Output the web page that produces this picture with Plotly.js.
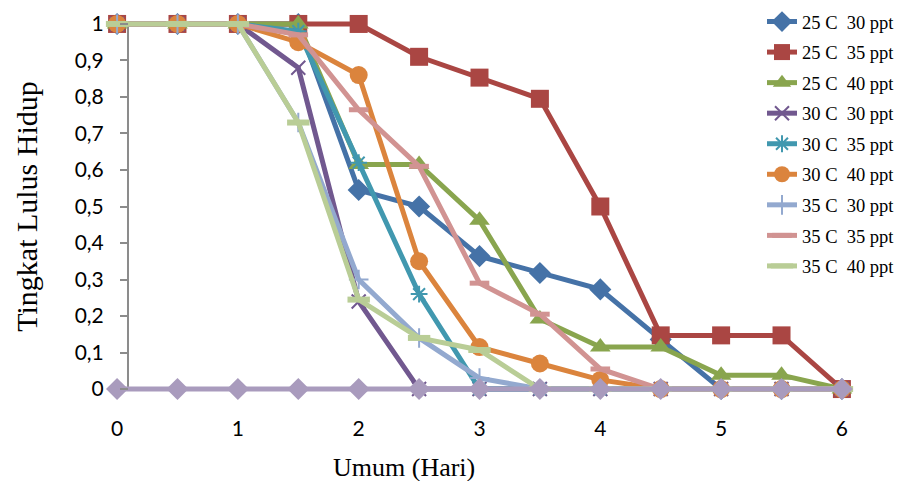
<!DOCTYPE html>
<html>
<head>
<meta charset="utf-8">
<script src="https://cdn.plot.ly/plotly-3.0.1.min.js"></script>
<style>html,body{margin:0;padding:0;background:#fff;}#chart{width:900px;height:481px;}</style>
</head>
<body>
<div id="chart"></div>
<script>
var days = [0, 0.5, 1, 1.5, 2, 2.5, 3, 3.5, 4, 4.5, 5, 5.5, 6];
var xTicks = [0, 1, 2, 3, 4, 5, 6];
var yTicks = [0, 0.1, 0.2, 0.3, 0.4, 0.5, 0.6, 0.7, 0.8, 0.9, 1];

var names = ['25 C\u00a0 30 ppt', '25 C\u00a0 35 ppt', '25 C\u00a0 40 ppt',
             '30 C\u00a0 30 ppt', '30 C\u00a0 35 ppt', '30 C\u00a0 40 ppt',
             '35 C\u00a0 30 ppt', '35 C\u00a0 35 ppt', '35 C\u00a0 40 ppt', ''];

var s25_30 = [1, 1, 1, 1, 0.545, 0.5, 0.364, 0.318, 0.273, 0.136, 0, 0, 0];
var s25_35 = [1, 1, 1, 1, 1, 0.91, 0.853, 0.795, 0.5, 0.147, 0.147, 0.147, 0];
var s25_40 = [1, 1, 1, 1, 0.615, 0.615, 0.462, 0.192, 0.115, 0.115, 0.038, 0.038, 0];
var s30_30 = [1, 1, 1, 0.88, 0.24, 0, 0, 0, 0, 0, 0, 0, 0];
var s30_35 = [1, 1, 1, 0.98, 0.62, 0.26, 0, 0, 0, 0, 0, 0, 0];
var s30_40 = [1, 1, 1, 0.95, 0.86, 0.35, 0.115, 0.07, 0.025, 0, 0, 0, 0];
var s35_30 = [1, 1, 1, 0.73, 0.30, 0.14, 0.03, 0, 0, 0, 0, 0, 0];
var s35_35 = [1, 1, 1, 0.97, 0.765, 0.61, 0.29, 0.205, 0.055, 0, 0, 0, 0];
var s35_40 = [1, 1, 1, 0.73, 0.245, 0.14, 0.107, 0, 0, 0, 0, 0, 0];
var sZero  = [0, 0, 0, 0, 0, 0, 0, 0, 0, 0, 0, 0, 0];

var series = [s25_30, s25_35, s25_40, s30_30, s30_35, s30_40, s35_30, s35_35, s35_40, sZero];
var colors = ['#4572A7', '#AA4643', '#89A54E', '#71588F', '#4198AF', '#DB843D', '#93A9CF', '#D19392', '#B9CD96', '#A99BBD'];
var symbols = ['diamond', 'square', 'triangle-up', 'x-thin', 'asterisk', 'circle', 'cross-thin', 'line-ew', 'line-ew', 'diamond'];
var msizes = [17, 18, 18, 14, 14, 18, 14, 14, 16, 17];

var traces = series.map(function (ys, i) {
  var thin = (symbols[i].indexOf('thin') >= 0 || symbols[i] === 'asterisk' || symbols[i].indexOf('line') === 0);
  return {
    type: 'scatter',
    mode: 'lines+markers',
    x: days,
    y: ys,
    name: names[i],
    showlegend: i < 9,
    legendgroup: 'g' + i,
    cliponaxis: false,
    line: {color: colors[i], width: 5},
    marker: {
      symbol: symbols[i],
      size: msizes[i],
      color: colors[i],
      line: {color: colors[i], width: thin ? 2 : 0}
    }
  };
});
traces[7].marker.line.width = 5;
traces[8].marker.line.width = 6;

var serif = 'Liberation Serif, Times New Roman, serif';

var layout = {
  width: 900,
  height: 481,
  margin: {l: 105, r: 46, t: 13, b: 81, autoexpand: false},
  paper_bgcolor: '#ffffff',
  plot_bgcolor: 'rgba(0,0,0,0)',
  separators: ', ',
  showlegend: true,
  legend: {
    xref: 'container', yref: 'container',
    x: 762 / 900, xanchor: 'left', y: 1 - 3 / 481, yanchor: 'top',
    font: {family: serif, size: 18.5, color: '#000'},
    traceorder: 'grouped',
    tracegroupgap: 3.5,
    maxheight: 470,
    bgcolor: 'rgba(0,0,0,0)'
  },
  xaxis: {
    range: [-0.1, 6.1],
    tickvals: xTicks,
    ticktext: xTicks.map(String),
    showgrid: false,
    zeroline: false,
    showline: false,
    ticks: '',
    ticklabelstandoff: 14,
    tickfont: {family: 'Lato, sans-serif', size: 21, color: '#000'}
  },
  yaxis: {
    range: [-0.03, 1.03],
    anchor: 'free',
    position: 0.0307,
    tickvals: yTicks,
    ticktext: yTicks.map(function (v) { return v === 0 || v === 1 ? String(v) : String(v).replace('.', ','); }),
    showgrid: false,
    zeroline: false,
    showline: false,
    ticks: 'outside',
    ticklen: 8,
    tickwidth: 2,
    tickcolor: '#8c8c8c',
    ticklabelstandoff: 12,
    tickfont: {family: 'Lato, sans-serif', size: 21, color: '#000'},
    title: {text: 'Tingkat Lulus Hidup', font: {family: serif, size: 30, color: '#000'}, standoff: 27}
  },
  annotations: [{
    text: 'Umum (Hari)', xref: 'paper', yref: 'paper',
    x: (404 - 105) / 749, y: -(467 - 400) / 387,
    xanchor: 'center', yanchor: 'middle', showarrow: false,
    font: {family: serif, size: 26, color: '#000'}
  }],
  shapes: [{
    type: 'line', xref: 'paper', yref: 'y',
    x0: 0.0307, x1: 0.0307, y0: 0, y1: 1,
    line: {color: '#8c8c8c', width: 2},
    layer: 'below'
  }]
};

Plotly.newPlot('chart', traces, layout, {displayModeBar: false, staticPlot: true});
</script>
</body>
</html>
